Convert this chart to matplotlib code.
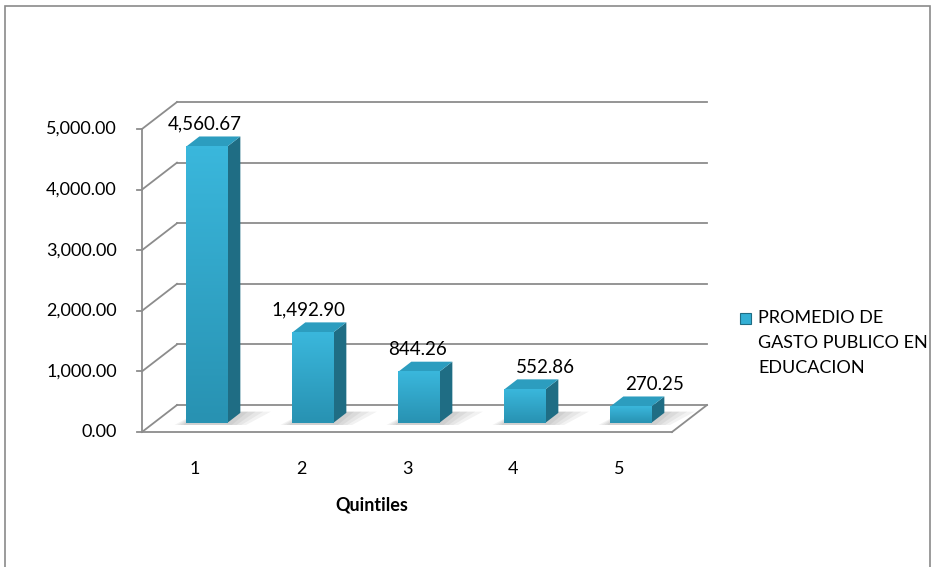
import numpy as np
import matplotlib
matplotlib.use("Agg")
import matplotlib.pyplot as plt
from matplotlib.patches import Polygon, Rectangle
from matplotlib.colors import LinearSegmentedColormap

plt.rcParams['font.family'] = ['Lato', 'DejaVu Sans']

# data
quintiles = [1, 2, 3, 4, 5]
gasto = [4560.67, 1492.90, 844.26, 552.86, 270.25]
y_ticks = [0, 1000, 2000, 3000, 4000, 5000]
serie = "PROMEDIO DE\nGASTO PUBLICO EN\nEDUCACION"

# fake 3D projection: depth z in [0, 1] shifts points right and up
DX = 0.33      # category units
DY = 445.0     # value units
Z_FRONT, Z_BACK = 0.33, 0.71
BAR_W = 0.387

grid_col = '#8c8c8c'
face_top = '#3ab7dc'
face_bot = '#2892b2'
side_col = '#1f6d84'
top_col = '#2c9dbf'

W, H = 932, 567
fig = plt.figure(figsize=(W / 100, H / 100), dpi=100)
ax = fig.add_axes([0, 0, 1, 1])
ax.axis('off')

# data limits chosen so that one category = 106 px, 1 unit = 0.0606 px
px_per_cat = 106.0
px_per_val = 0.0606
x0_px, y0_px = 195.0, 432.0
xlim = (1 - x0_px / px_per_cat, 1 + (W - x0_px) / px_per_cat)
ylim = (-(H - y0_px) / px_per_val, y0_px / px_per_val)


def proj(x, v, z):
    return x + z * DX, v + z * DY


# walls: back gridlines, left wall diagonals, front axis line, floor
x_left, x_right = 0.5, 5.5
for v in y_ticks:
    bx0, by = proj(x_left, v, 1)
    bx1, _ = proj(x_right, v, 1)
    ax.plot([bx0, bx1], [by, by], color=grid_col, lw=1.3, zorder=1)
    ax.plot([x_left, bx0], [v, by], color=grid_col, lw=1.3, zorder=1)
    ax.plot([x_left - 0.05, x_left], [v, v], color=grid_col, lw=1.3, zorder=1)
    ax.annotate(f"{v:,.2f}", (x_left, v), xytext=(-18, 0), textcoords='offset points',
                ha='right', va='center', fontsize=13, color='black')
ax.plot([x_left, x_left], [0, y_ticks[-1]], color=grid_col, lw=1.3, zorder=1)
ax.plot([x_left, x_right], [0, 0], color=grid_col, lw=1.3, zorder=1)
rx, ry = proj(x_right, 0, 1)
ax.plot([x_right, rx], [0, ry], color=grid_col, lw=1.3, zorder=1)

cmap = LinearSegmentedColormap.from_list('barface', [face_bot, face_top])
grad = np.linspace(0, 1, 64).reshape(-1, 1)

label_dx = [-1, -3, -1, 15, 17]

for i, (q, val) in enumerate(zip(quintiles, gasto)):
    xl, xr = q - BAR_W / 2, q + BAR_W / 2
    fxl, fy0 = proj(xl, 0, Z_FRONT)
    fxr, fy1 = proj(xr, val, Z_FRONT)
    bxr, by0 = proj(xr, 0, Z_BACK)
    bxl, by1 = proj(xl, val, Z_BACK)
    bxr1, _ = proj(xr, val, Z_BACK)

    # soft floor shadow around the base, stronger near the bar
    for k in range(4):
        g = 0.045 * (4 - k)
        sh = Polygon([(fxl - g * 0.6, fy0 - 30), (fxr + g, fy0 - 30),
                      (bxr + 1.6 * g, by0 + 20), (bxl, by0 + 20)],
                     closed=True, color='#4a4a4a', alpha=0.07, lw=0, zorder=2)
        ax.add_patch(sh)

    # side and top faces
    side = Polygon([(fxr, fy0), (bxr, by0), (bxr1, by1), (fxr, fy1)],
                   closed=True, facecolor=side_col, edgecolor='none', zorder=3)
    top = Polygon([(fxl, fy1), (fxr, fy1), (bxr1, by1), (bxl, by1)],
                  closed=True, facecolor=top_col, edgecolor='none', zorder=3)
    ax.add_patch(side)
    ax.add_patch(top)

    # front face with vertical gradient
    ax.imshow(grad, extent=[fxl, fxr, fy0, fy1], origin='lower', cmap=cmap,
              aspect='auto', interpolation='bicubic', zorder=4)

    ax.annotate(f"{val:,.2f}", ((fxl + fxr) / 2, fy1), xytext=(label_dx[i], 10),
                textcoords='offset points', ha='center', va='bottom',
                fontsize=13.5, color='black', zorder=5)

    ax.annotate(str(q), (q, 0), xytext=(0, -27), textcoords='offset points',
                ha='center', va='center', fontsize=13, color='black')

ax.set_xlim(*xlim)
ax.set_ylim(*ylim)

fig.text(372 / W, 1 - 505 / H, "Quintiles", ha='center', va='center',
         fontsize=13, fontweight='bold')

# legend drawn by hand so the swatch sits on the first line
lines = serie.split("\n")
fig.patches.append(Rectangle((740 / W, 1 - 324 / H), 11 / W, 11 / H,
                             transform=fig.transFigure, facecolor='#33afd4',
                             edgecolor='#1f6d84', lw=0.8))
for j, ln in enumerate(lines):
    fig.text(758 / W, 1 - (318 + 25 * j) / H, ln, ha='left', va='center', fontsize=13)

# chart border
fig.patches.append(Rectangle((5 / W, -0.01), (W - 7) / W, 1 - 6 / H + 0.01,
                             transform=fig.transFigure, fill=False,
                             edgecolor='#8a8a8a', lw=1.2))

fig.savefig("out.png", dpi=100)
